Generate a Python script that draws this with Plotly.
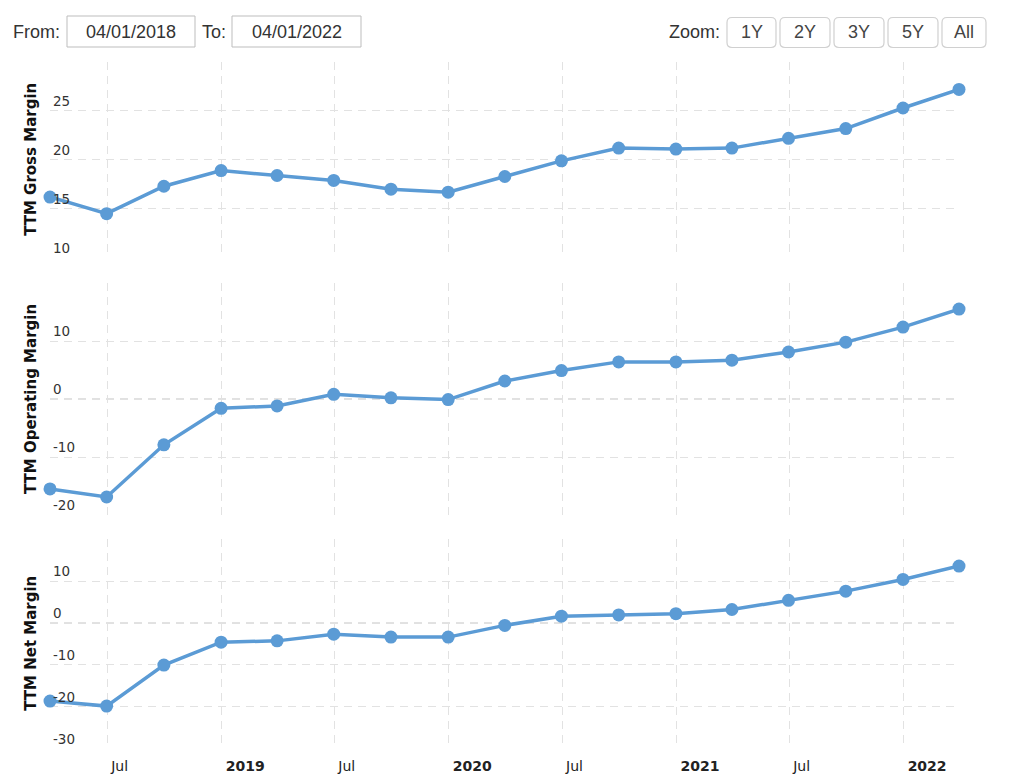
import plotly.graph_objects as go

# quarterly TTM margins (%)
quarters = [
    "2018-03-31", "2018-06-30", "2018-09-30", "2018-12-31",
    "2019-03-31", "2019-06-30", "2019-09-30", "2019-12-31",
    "2020-03-31", "2020-06-30", "2020-09-30", "2020-12-31",
    "2021-03-31", "2021-06-30", "2021-09-30", "2021-12-31",
    "2022-03-31",
]
gross_margin = [16.2, 14.5, 17.3, 18.9, 18.4, 17.9, 17.0, 16.7, 18.3,
                19.9, 21.2, 21.1, 21.2, 22.2, 23.2, 25.3, 27.2]
operating_margin = [-15.5, -16.9, -7.9, -1.6, -1.2, 0.8, 0.2, -0.1, 3.1,
                    4.9, 6.4, 6.4, 6.7, 8.1, 9.8, 12.4, 15.5]
net_margin = [-18.7, -19.9, -10.1, -4.6, -4.3, -2.7, -3.4, -3.4, -0.6,
              1.6, 1.9, 2.2, 3.2, 5.4, 7.6, 10.4, 13.6]

panel_titles = ["TTM Gross Margin", "TTM Operating Margin", "TTM Net Margin"]
x_tickvals = ["2018-07-01", "2019-01-01", "2019-07-01", "2020-01-01",
              "2020-07-01", "2021-01-01", "2021-07-01", "2022-01-01"]
x_ticktext = ["Jul", "<b>2019</b>", "Jul", "<b>2020</b>",
              "Jul", "<b>2021</b>", "Jul", "<b>2022</b>"]
zoom_buttons = ["1Y", "2Y", "3Y", "5Y", "All"]
date_from, date_to = "04/01/2018", "04/01/2022"

# page body has an 8px margin, so the figure is drawn 8px in from the corner
OFF = 8
W, H = 1024 - 2 * OFF, 782 - 2 * OFF
L, R = 50, 959          # plot area in page pixels
LINE = "#5b9bd5"
GRID = "#e2e2e2"
DASH = "8px,6px"
CHART_FONT = "DejaVu Sans"
UI_FONT = "Liberation Sans"


def px(x):
    return (x - L) / (R - L)


def py(y):
    return 1 - (y - OFF) / H


def rrect(x0, y0, x1, y1, r=4):
    # rounded rectangle path in paper coords from a pixel box
    p = [
        f"M {px(x0 + r)} {py(y0)}", f"L {px(x1 - r)} {py(y0)}",
        f"Q {px(x1)} {py(y0)} {px(x1)} {py(y0 + r)}",
        f"L {px(x1)} {py(y1 - r)}",
        f"Q {px(x1)} {py(y1)} {px(x1 - r)} {py(y1)}",
        f"L {px(x0 + r)} {py(y1)}",
        f"Q {px(x0)} {py(y1)} {px(x0)} {py(y1 - r)}",
        f"L {px(x0)} {py(y0 + r)}",
        f"Q {px(x0)} {py(y0)} {px(x0 + r)} {py(y0)} Z",
    ]
    return " ".join(p)


series = [gross_margin, operating_margin, net_margin]
y_ranges = [[10, 30], [-20, 20], [-30, 20]]
y_steps = [5, 10, 10]
# panel pixel extents (top, bottom)
panels = [(62, 257.7), (283, 515), (539.3, 748.3)]

fig = go.Figure()
layout = dict(
    width=W, height=H,
    margin=dict(l=L - OFF, r=W - (R - OFF), t=0, b=0),
    plot_bgcolor="white", paper_bgcolor="white",
    showlegend=False,
    font=dict(family=CHART_FONT, size=13, color="#333333"),
)

for i, vals in enumerate(series):
    n = "" if i == 0 else str(i + 1)
    fig.add_trace(go.Scatter(
        x=quarters, y=vals, mode="lines+markers",
        xaxis="x" + n, yaxis="y" + n,
        line=dict(color=LINE, width=3.5),
        marker=dict(color=LINE, size=13),
        cliponaxis=False,
        name=panel_titles[i],
    ))
    lo, hi = y_ranges[i]
    tv = list(range(lo, hi + 1, y_steps[i]))
    tt = [str(v) for v in tv[:-1]] + [""]
    top, bot = panels[i]
    layout["xaxis" + n] = dict(
        domain=[0, 1], anchor="y" + n, type="date",
        range=["2018-03-31", "2022-03-31"],
        tickvals=x_tickvals, ticktext=x_ticktext,
        showticklabels=(i == 2),
        ticklabelposition="outside right",
        ticklabelshift=4, ticklabelstandoff=8,
        tickfont=dict(family=CHART_FONT, size=14, color="#222222"),
        showgrid=True, gridcolor=GRID, griddash=DASH, gridwidth=1,
        zeroline=False, showline=False, ticks="",
        automargin=False,
    )
    layout["yaxis" + n] = dict(
        domain=[py(bot), py(top)], anchor="x" + n,
        range=[lo, hi], tickvals=tv, ticktext=tt,
        ticklabelposition="inside top",
        tickfont=dict(family=CHART_FONT, size=13.5, color="#333333"),
        showgrid=True, gridcolor=GRID, griddash=DASH, gridwidth=1,
        zeroline=False, showline=False, ticks="",
        automargin=False,
    )

fig.update_layout(**layout)

shapes = []
annotations = []

# darker zero lines on operating / net panels
for n in ["2", "3"]:
    shapes.append(dict(
        type="line", xref="x" + n + " domain", x0=0, x1=1,
        yref="y" + n, y0=0, y1=0, layer="below",
        line=dict(color="#c4c4c4", width=1.2, dash=DASH),
    ))

# rotated panel titles
for i, t in enumerate(panel_titles):
    n = "" if i == 0 else str(i + 1)
    annotations.append(dict(
        text=f"<b>{t}</b>", textangle=-90,
        xref="paper", x=px(31), xanchor="center",
        yref="y" + n + " domain", y=0.5, yanchor="middle",
        showarrow=False,
        font=dict(family=CHART_FONT, size=15, color="#111111"),
    ))


def ui_text(txt, xc, yc, color="#333333", size=18):
    annotations.append(dict(text=txt, xref="paper", yref="paper",
                            x=px(xc), y=py(yc), xanchor="center", yanchor="middle",
                            showarrow=False,
                            font=dict(family=UI_FONT, size=size, color=color)))


# date range inputs
ui_y = 32
ui_text("From:", 36, ui_y)
ui_text("To:", 214, ui_y)
for (x0, x1), txt in [((67, 195), date_from), ((232, 361), date_to)]:
    shapes.append(dict(type="rect", xref="paper", yref="paper",
                       x0=px(x0), x1=px(x1), y0=py(47), y1=py(16),
                       line=dict(color="#bdbdbd", width=1), fillcolor="white"))
    ui_text(txt, (x0 + x1) / 2, ui_y)

# zoom buttons
ui_text("Zoom:", 694, ui_y)
btn_x = [(727, 776), (780, 830), (834, 884), (888, 938), (942, 986)]
for (x0, x1), lab in zip(btn_x, zoom_buttons):
    shapes.append(dict(type="path", xref="paper", yref="paper",
                       path=rrect(x0, 17.5, x1, 47.5, r=5),
                       line=dict(color="#d0d0d0", width=1.2), fillcolor="white"))
    ui_text(lab, (x0 + x1) / 2, ui_y + 0.5, color="#444444")

fig.update_layout(shapes=shapes, annotations=annotations)

fig.write_html("out.html")
